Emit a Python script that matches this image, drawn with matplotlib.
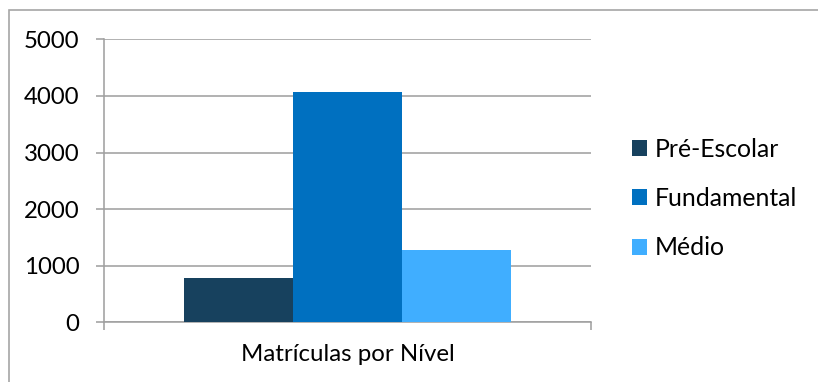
import matplotlib
matplotlib.use("Agg")
import matplotlib.pyplot as plt
from matplotlib.patches import Rectangle

categories = ["Matrículas por Nível"]
series_names = ["Pré-Escolar", "Fundamental", "Médio"]
series_values = [[776], [4075], [1282]]
colors = ["#17415E", "#0070C0", "#40AEFF"]
yticks = [0, 1000, 2000, 3000, 4000, 5000]

plt.rcParams['font.family'] = ['Lato', 'DejaVu Sans']
plt.rcParams['text.color'] = '#000000'
W, H = 818, 382
DPI = 100
fig = plt.figure(figsize=(W / DPI, H / DPI), dpi=DPI)
fig.patch.set_facecolor("white")

# outer chart border
fig.patches.append(Rectangle((8.5 / W, -0.02), 1.05, 1 - 9.5 / H + 0.02, transform=fig.transFigure,
                             fill=False, edgecolor="#a6a6a6", linewidth=1.2))

left, right, top, bottom = 104, 591, 39.3, 322.3
ax = fig.add_axes([left / W, 1 - bottom / H, (right - left) / W, (bottom - top) / H])

grid_c = "#a0a0a0"
lw = 1.15
bw = 0.2232
offsets = [-bw, 0, bw]
for i, (name, vals) in enumerate(zip(series_names, series_values)):
    ax.bar([offsets[i]], vals, width=bw, color=colors[i], label=name, zorder=3)

fs = 17.3
ax.set_xlim(-0.5, 0.5)
ax.set_ylim(0, 5000)
ax.set_yticks(yticks)
ax.set_yticklabels([str(v) for v in yticks], fontsize=fs)
ax.yaxis.grid(True, color=grid_c, linewidth=lw, zorder=0)
ax.set_xticks([-0.5, 0.5])
ax.set_xticklabels(["", ""])
ax.set_xticks([0], minor=True)
ax.set_xticklabels(categories, minor=True, fontsize=fs)
ax.tick_params(axis='x', which='minor', length=0, pad=15.5)
ax.tick_params(axis='x', which='major', length=5.8, width=lw, color=grid_c)
ax.tick_params(axis='y', length=5.8, width=lw, color=grid_c, pad=12)
for s in ["top", "right"]:
    ax.spines[s].set_visible(False)
for s in ["left", "bottom"]:
    ax.spines[s].set_color(grid_c)
    ax.spines[s].set_linewidth(lw)

fig.legend(loc="center left", bbox_to_anchor=(610 / W, 1 - 198.5 / H), frameon=False,
           fontsize=17.8, handlelength=0.6, handleheight=0.6, handletextpad=0.3,
           labelspacing=1.07)

fig.savefig("out.png", dpi=DPI)
